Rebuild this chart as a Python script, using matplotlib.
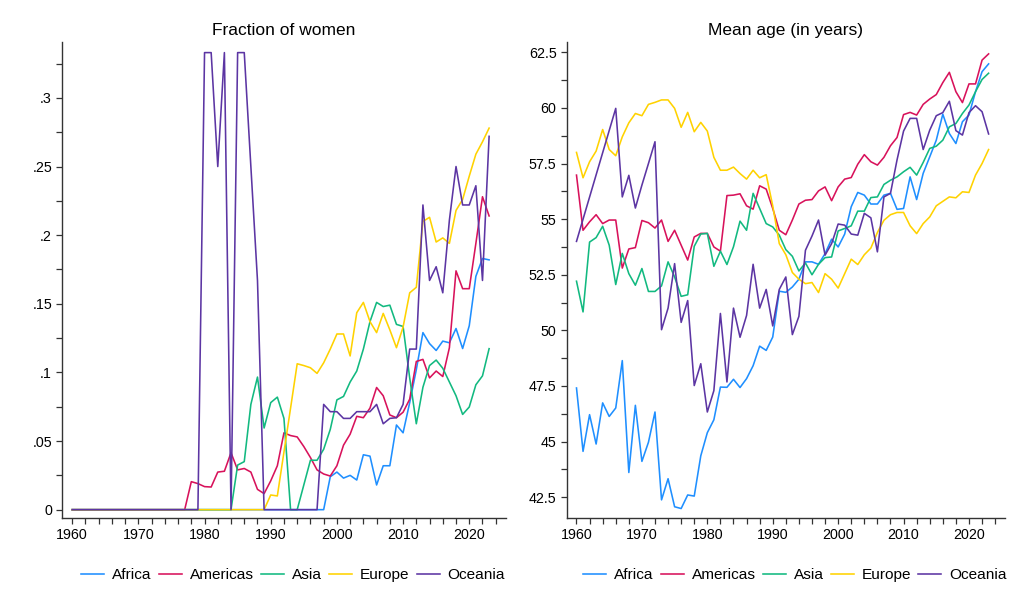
import numpy as np
import matplotlib
matplotlib.use('Agg')
import matplotlib.pyplot as plt
from matplotlib.ticker import FixedLocator, FuncFormatter

plt.rcParams['font.family'] = ['Liberation Sans', 'DejaVu Sans']

years = np.arange(1960, 2024)
regions = ['Africa', 'Americas', 'Asia', 'Europe', 'Oceania']
colors = ['#1f8fff', '#d8125b', '#12b980', '#ffd200', '#5c35a3']
nan = np.nan

# fraction of women
women_africa = [0.0] * 39 + [
    0.024, 0.0274, 0.023, 0.025, 0.0216, 0.040, 0.039, 0.018, 0.032, 0.032,
    0.0617, 0.056, 0.078, 0.102, 0.129, 0.121, 0.116, 0.1228, 0.1216, 0.132,
    0.1174, 0.134, 0.170, 0.183, 0.182]
women_americas = [0.0] * 18 + [
    0.0204, 0.019, 0.0168, 0.0165, 0.0274, 0.028, 0.0415, 0.029, 0.030, 0.0274,
    0.0148, 0.0117, 0.021, 0.032, 0.056, 0.054, 0.053, 0.046, 0.038, 0.029,
    0.026, 0.0245, 0.032, 0.047, 0.055, 0.068, 0.067, 0.074, 0.089, 0.083,
    0.069, 0.067, 0.071, 0.0805, 0.108, 0.1095, 0.096, 0.101, 0.097, 0.118,
    0.174, 0.161, 0.161, 0.194, 0.228, 0.214]
women_asia = [0.0] * 25 + [
    0.0325, 0.035, 0.0767, 0.0966, 0.0595, 0.078, 0.082, 0.0665, 0.0, 0.0,
    0.018, 0.036, 0.036, 0.044, 0.0585, 0.080, 0.0825, 0.093, 0.101, 0.117,
    0.137, 0.151, 0.148, 0.149, 0.135, 0.1335, 0.096, 0.0626, 0.0892, 0.105,
    0.109, 0.103, 0.093, 0.083, 0.0694, 0.0748, 0.091, 0.0975, 0.1173]
women_europe = [0.0] * 30 + [
    0.0107, 0.010, 0.042, 0.074, 0.1063, 0.105, 0.1034, 0.0993, 0.107, 0.117,
    0.128, 0.128, 0.112, 0.1435, 0.151, 0.137, 0.129, 0.143, 0.131, 0.118,
    0.133, 0.158, 0.162, 0.210, 0.213, 0.195, 0.198, 0.194, 0.218, 0.226,
    0.243, 0.259, 0.268, 0.278]
women_oceania = [0.0] + [nan] * 5 + [0.0] * 14 + [
    0.333, 0.333, 0.25, 0.333, 0.0, 0.333, 0.333, 0.25, 0.167] + [0.0] * 9 + [
    0.0767, 0.0714, 0.0714, 0.0665, 0.0665, 0.0714, 0.0714, 0.0714, 0.0767, 0.0626,
    0.0665, 0.067, 0.0767, 0.117, 0.117, 0.222, 0.167, 0.177, 0.158, 0.211,
    0.25, 0.222, 0.222, 0.236, 0.167, 0.272]

# mean age
age_africa = [
    47.41, 44.56, 46.21, 44.89, 46.74, 46.13, 46.51, 48.64, 43.61, 46.63,
    44.11, 44.97, 46.33, 42.38, 43.33, 42.07, 41.99, 42.6, 42.55, 44.36,
    45.4, 45.98, 47.45, 47.44, 47.8, 47.43, 47.83, 48.41, 49.29, 49.1,
    49.7, 51.76, 51.71, 51.95, 52.3, 53.08, 53.08, 52.97, 53.45, 54.1,
    53.75, 54.33, 55.56, 56.2, 56.08, 55.68, 55.68, 56.08, 56.16, 55.44,
    55.48, 56.9, 55.88, 57.06, 57.8, 58.55, 59.72, 58.85, 58.4, 59.38,
    59.68, 60.73, 61.63, 61.98]
age_americas = [
    56.98, 54.5, 54.88, 55.2, 54.8, 54.96, 54.96, 52.8, 53.66, 53.72,
    54.94, 54.84, 54.6, 54.96, 54.0, 54.5, 53.83, 53.16, 54.2, 54.36,
    54.36, 53.75, 53.56, 56.06, 56.08, 56.14, 55.6, 55.45, 56.5, 56.35,
    55.48, 54.5, 54.3, 54.96, 55.68, 55.85, 55.88, 56.27, 56.45, 55.83,
    56.45, 56.8, 56.87, 57.47, 57.9, 57.58, 57.43, 57.78, 58.3, 58.67,
    59.7, 59.8, 59.68, 60.16, 60.4, 60.6, 61.14, 61.6, 60.73, 60.24,
    61.08, 61.08, 62.15, 62.43]
age_asia = [
    52.21, 50.83, 53.97, 54.17, 54.68, 53.83, 52.06, 53.46, 52.55, 52.03,
    52.78, 51.75, 51.75, 52.0, 53.08, 52.4, 51.53, 51.6, 53.78, 54.33,
    54.36, 52.88, 53.56, 52.96, 53.76, 54.91, 54.5, 56.16, 55.48, 54.8,
    54.65, 54.28, 53.63, 53.33, 52.67, 53.03, 52.5, 52.97, 53.27, 53.3,
    54.47, 54.58, 54.7, 55.36, 55.36, 55.97, 56.0, 56.56, 56.75, 56.9,
    57.13, 57.33, 56.98, 57.55, 58.18, 58.28, 58.55, 59.15, 59.3, 59.75,
    60.13, 60.73, 61.28, 61.56]
age_europe = [
    58.0, 56.86, 57.58, 58.06, 59.03, 58.13, 57.85, 58.7, 59.33, 59.75,
    59.65, 60.16, 60.25, 60.36, 60.36, 59.98, 59.13, 59.8, 58.93, 59.35,
    58.96, 57.78, 57.2, 57.2, 57.34, 57.05, 56.8, 57.2, 56.86, 57.0,
    55.6, 53.9, 53.4, 52.6, 52.3, 52.1, 52.15, 51.7, 52.55, 52.3,
    51.9, 52.55, 53.2, 52.96, 53.4, 53.7, 54.4, 54.95, 55.2, 55.3,
    55.3, 54.7, 54.35, 54.8, 55.1, 55.6, 55.8, 56.0, 55.96, 56.23,
    56.2, 56.98, 57.5, 58.13]
age_oceania = [
    54.0, nan, nan, nan, nan, nan, 59.98, 56.0, 56.97, 55.5,
    56.53, 57.5, 58.48, 50.03, 51.0, 53.0, 50.36, 51.34, 47.52, 48.5,
    46.33, 47.29, 50.76, 47.68, 51.0, 49.69, 50.67, 52.97, 51.0, 51.84,
    50.2, 51.84, 52.4, 49.81, 50.63, 53.6, 54.24, 54.96, 53.38, 53.9,
    54.78, 54.73, 54.33, 54.28, 55.26, 55.06, 53.53, 56.0, 56.16, 57.66,
    58.96, 59.53, 59.53, 58.13, 59.0, 59.65, 59.79, 60.3, 58.98, 58.78,
    59.79, 60.1, 59.83, 58.83]

women = [women_africa, women_americas, women_asia, women_europe, women_oceania]
ages = [age_africa, age_americas, age_asia, age_europe, age_oceania]

fig = plt.figure(figsize=(10.24, 6.15), dpi=100)
ax1 = fig.add_axes([0.0608, 0.1572, 0.433, 0.774])
ax2 = fig.add_axes([0.5534, 0.1572, 0.428, 0.774])


def draw(ax, series, title):
    for name, vals, c in zip(regions, series, colors):
        v = np.array(vals, dtype=float)
        ok = ~np.isnan(v)
        ax.plot(years[ok], v[ok], color=c, lw=1.15, label=name)
    ax.set_title(title, fontsize=12.5, pad=5)
    ax.set_xlim(1958.5, 2025.5)
    ax.xaxis.set_major_locator(FixedLocator(range(1960, 2021, 10)))
    ax.xaxis.set_minor_locator(FixedLocator(range(1960, 2025, 2)))
    for s in ['top', 'right']:
        ax.spines[s].set_visible(False)
    for s in ['left', 'bottom']:
        ax.spines[s].set_color('#333333')
        ax.spines[s].set_linewidth(1.0)
    ax.tick_params(which='both', direction='out', length=4.3, width=0.9,
                   color='#333333', labelsize=10.3, pad=3)
    ax.legend(loc='center', bbox_to_anchor=(0.521, -0.119), ncol=5,
              frameon=False, fontsize=11.1, handlelength=1.5,
              handletextpad=0.52, columnspacing=0.45, borderaxespad=0)


draw(ax1, women, 'Fraction of women')
ax1.set_ylim(-0.0063, 0.3405)
ax1.yaxis.set_major_locator(FixedLocator([0, 0.05, 0.1, 0.15, 0.2, 0.25, 0.3]))
ax1.yaxis.set_minor_locator(FixedLocator(np.arange(0, 0.34, 0.025)))
ax1.yaxis.set_major_formatter(FuncFormatter(
    lambda v, p: '0' if abs(v) < 1e-9 else f'{v:g}'.lstrip('0')))

draw(ax2, ages, 'Mean age (in years)')
ax2.set_ylim(41.55, 62.95)
ax2.yaxis.set_major_locator(FixedLocator(np.arange(42.5, 62.6, 2.5)))
ax2.yaxis.set_minor_locator(FixedLocator(np.arange(42.5, 62.6, 1.25)))
ax2.yaxis.set_major_formatter(FuncFormatter(lambda v, p: f'{v:g}'))

fig.savefig('out.png', dpi=100)
